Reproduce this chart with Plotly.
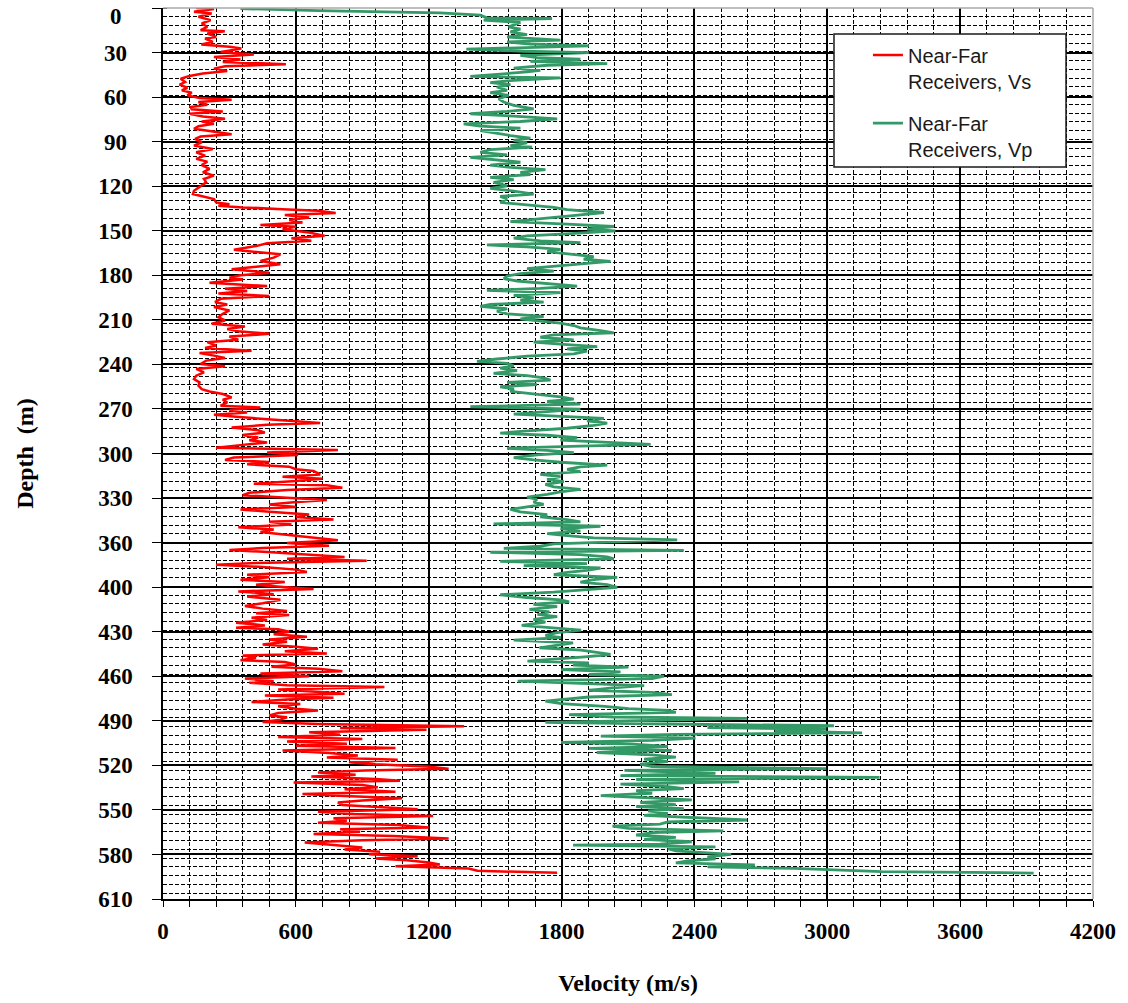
import plotly.graph_objects as go

# Shear-wave velocity log (near-far receiver pair): depth in m, velocity in m/s
VS_DEPTH = [
    0.0, 0.7, 2.6, 3.7, 6.0, 8.3, 10.6, 12.9, 15.2, 15.9, 17.5, 19.8, 20.9, 23.2, 25.0, 26.6,
    27.8, 30.1, 31.9, 33.5, 35.3, 36.9, 38.5, 39.9, 41.5, 43.1, 44.9, 46.5, 48.4, 50.7, 52.5,
    54.6, 56.4, 58.0, 59.8, 61.7, 62.8, 64.4, 66.2, 67.8, 69.4, 70.8, 72.4, 74.3, 75.9, 77.7,
    79.3, 80.9, 82.7, 84.6, 86.4, 88.0, 89.6, 91.9, 94.2, 96.5, 98.8, 101.1, 103.3, 105.2,
    107.5, 110.2, 112.5, 114.8, 117.1, 119.4, 122.8, 125.1, 127.4, 129.0, 130.8, 133.1, 134.3,
    135.4, 136.5, 137.7, 138.8, 140.4, 141.8, 143.4, 145.2, 146.9, 148.5, 149.8, 151.4, 153.7,
    156.0, 157.6, 159.4, 161.0, 163.0, 165.5, 168.6, 170.9, 173.2, 175.5, 177.3, 178.9, 181.2,
    183.0, 184.6, 185.8, 188.1, 190.4, 192.2, 193.8, 195.4, 197.2, 199.1, 201.4, 203.0, 204.8,
    207.1, 209.4, 211.7, 213.9, 216.2, 218.1, 219.7, 221.3, 223.1, 224.9, 227.2, 228.8, 231.1,
    232.7, 234.6, 236.2, 238.0, 239.6, 241.4, 243.7, 245.3, 247.1, 249.4, 251.7, 254.0, 256.3,
    258.6, 260.9, 262.5, 264.3, 266.6, 268.2, 270.0, 272.3, 273.5, 275.3, 276.9, 278.5, 279.9,
    281.5, 282.6, 284.2, 285.4, 287.2, 289.1, 290.7, 292.3, 294.1, 295.9, 297.5, 299.1, 301.0,
    302.6, 304.4, 306.0, 307.8, 309.4, 310.8, 312.4, 314.0, 315.8, 317.0, 319.3, 320.9, 322.3,
    323.9, 325.7, 326.8, 328.4, 330.0, 331.9, 333.5, 335.3, 336.9, 338.3, 339.9, 341.7, 343.3,
    344.9, 346.8, 348.4, 350.2, 351.8, 353.6, 355.5, 357.1, 358.7, 360.5, 362.8, 364.4, 366.2,
    368.1, 369.7, 371.0, 372.6, 374.2, 375.8, 377.0, 378.4, 380.0, 381.1, 382.7, 384.5, 386.1,
    388.0, 389.8, 391.4, 393.0, 394.8, 396.7, 397.8, 399.4, 401.3, 402.9, 405.2, 407.5, 409.4,
    411.2, 412.8, 414.4, 415.6, 417.4, 419.0, 420.8, 422.7, 424.3, 425.4, 427.0, 428.8, 430.4,
    432.3, 433.9, 435.7, 437.3, 438.7, 440.3, 441.9, 443.3, 444.9, 446.5, 447.8, 449.4, 451.0,
    452.4, 454.0, 455.6, 457.5, 459.1, 460.9, 462.0, 463.6, 464.8, 466.6, 468.2, 469.4, 470.7,
    472.3, 473.5, 475.1, 476.5, 478.1, 479.7, 481.0, 482.7, 484.3, 485.6, 487.2, 488.8, 490.2,
    491.8, 493.0, 494.1, 495.9, 497.5, 499.1, 500.5, 502.1, 503.7, 505.1, 506.7, 508.3, 510.1,
    511.7, 513.1, 514.7, 516.3, 517.7, 519.3, 520.9, 522.0, 523.4, 525.0, 526.2, 527.8, 529.1,
    530.3, 531.9, 533.5, 534.9, 536.5, 538.1, 539.4, 541.0, 542.6, 544.0, 545.6, 547.2, 548.6,
    550.2, 551.8, 553.2, 554.8, 556.4, 557.8, 559.4, 561.0, 562.3, 563.9, 565.5, 566.9, 568.5,
    569.7, 571.3, 573.1, 574.7, 576.1, 577.7, 579.3, 580.7, 582.3, 583.4, 585.0, 586.4, 587.5,
    589.1, 590.7, 591.7, 592.1,
]
VS_VEL = [
    150, 230, 140, 220, 160, 215, 175, 200, 170, 279, 200, 240, 190, 225, 173, 300,
    354, 260, 410, 230, 350, 270, 555, 280, 230, 290, 180, 120, 80, 100, 75,
    110, 85, 130, 110, 165, 310, 160, 200, 125, 130, 270, 120, 180, 280, 175,
    230, 160, 140, 230, 310, 170, 145, 175, 140, 225, 150, 190, 150, 200,
    175, 210, 180, 230, 185, 195, 165, 140, 135, 180, 230, 240, 300,
    250, 360, 540, 700, 780, 550, 660, 570, 630, 440, 600, 540, 660,
    730, 580, 670, 470, 420, 320, 530, 500, 440, 530, 420, 310, 480,
    350, 300, 360, 210, 470, 280, 380, 250, 480, 260, 235, 290, 230,
    300, 270, 250, 280, 220, 370, 290, 340, 480, 300, 340, 200, 240,
    190, 400, 165, 230, 280, 195, 170, 280, 150, 185, 150, 140, 165,
    160, 175, 210, 270, 310, 270, 290, 260, 440, 300, 380, 230, 330,
    480, 590, 710, 470, 310, 430, 460, 360, 430, 390, 470, 360, 240,
    790, 470, 610, 320, 280, 480, 380, 570, 600, 680, 710, 540, 720,
    600, 410, 740, 810, 560, 390, 360, 560, 740, 590, 480, 600, 350,
    480, 660, 600, 770, 480, 580, 340, 500, 440, 560, 680, 790, 560,
    750, 450, 300, 490, 650, 820, 560, 920, 420, 240, 450, 600, 650,
    380, 480, 350, 550, 420, 570, 680, 340, 500, 380, 530, 450, 370,
    450, 560, 420, 570, 400, 470, 330, 460, 330, 520, 570, 500, 650,
    480, 560, 450, 600, 700, 550, 740, 360, 420, 350, 550, 600, 490,
    700, 810, 440, 660, 370, 500, 390, 560, 1000, 520, 710, 820, 460,
    770, 560, 400, 620, 520, 600, 700, 520, 480, 560, 530, 450, 700,
    1360, 800, 1190, 660, 800, 520, 900, 560, 830, 600, 1050, 540, 750,
    880, 740, 1060, 840, 960, 1190, 1290, 910, 700, 870, 670, 960, 1070,
    590, 900, 970, 820, 1050, 630, 820, 1080, 900, 790, 810, 1000, 1150,
    700, 860, 1220, 770, 830, 700, 1060, 1200, 800, 890, 680, 1040, 1290,
    900, 640, 800, 900, 820, 980, 930, 1150, 960, 1100, 1200, 1250, 1050,
    1380, 1420, 1700, 1780,
]

# Compressional-wave velocity log (near-far receiver pair)
VP_DEPTH = [
    0.4, 0.8, 1.8, 2.6, 3.3, 4.9, 6.7, 7.2, 8.3, 9.9, 11.3, 12.9, 14.5, 16.3, 18.2, 19.8,
    20.9, 22.0, 23.2, 24.8, 25.9, 27.3, 28.2, 29.6, 30.5, 32.4, 34.0, 35.1, 36.5, 38.1, 39.2,
    41.1, 42.7, 43.8, 45.4, 46.8, 47.9, 49.5, 51.1, 52.5, 54.1, 56.4, 58.0, 59.8, 62.1, 64.4,
    66.7, 69.0, 70.8, 72.4, 74.0, 75.9, 77.7, 79.3, 80.9, 82.3, 83.9, 85.5, 87.3, 89.1, 90.7,
    92.3, 94.2, 95.3, 96.9, 98.8, 100.6, 102.2, 103.8, 105.6, 107.5, 109.1, 110.7, 112.5,
    114.1, 115.9, 117.5, 119.4, 121.7, 123.5, 125.3, 127.4, 129.0, 130.8, 133.1, 134.9, 136.5,
    138.1, 140.0, 141.6, 143.0, 144.6, 146.2, 148.0, 149.6, 151.4, 152.6, 154.4, 156.0, 157.6,
    159.4, 160.6, 162.2, 163.6, 165.2, 166.8, 168.6, 170.2, 172.0, 173.4, 174.8, 176.6, 178.5,
    180.1, 181.9, 183.5, 185.3, 186.9, 188.5, 190.4, 192.0, 193.3, 194.9, 196.8, 198.4, 200.0,
    201.4, 203.0, 204.3, 205.9, 207.5, 209.4, 211.2, 212.8, 214.4, 215.8, 217.4, 219.0, 220.8,
    222.4, 223.8, 225.4, 227.2, 228.8, 230.4, 231.8, 233.4, 235.0, 236.8, 238.4, 240.3, 241.9,
    243.3, 244.9, 246.5, 248.3, 250.1, 251.7, 253.3, 254.7, 256.3, 257.9, 259.3, 260.9, 262.5,
    264.3, 266.2, 267.8, 269.4, 271.2, 273.0, 274.6, 276.2, 278.1, 279.7, 281.0, 282.6, 284.2,
    285.8, 287.7, 289.5, 291.1, 292.5, 294.1, 295.9, 297.3, 298.7, 300.0, 301.4, 302.8, 304.4,
    306.0, 307.8, 309.4, 311.0, 312.9, 314.2, 315.8, 317.4, 319.3, 320.9, 322.7, 324.3, 326.1,
    327.8, 329.6, 331.2, 333.0, 334.9, 336.5, 338.3, 339.9, 341.7, 343.3, 344.9, 346.8, 348.4,
    350.2, 351.8, 353.2, 354.8, 356.4, 358.2, 359.8, 361.2, 362.8, 364.2, 365.5, 366.9, 368.5,
    369.9, 371.3, 372.6, 374.2, 375.8, 377.2, 378.8, 380.4, 381.8, 383.4, 385.0, 386.4, 388.0,
    389.8, 391.4, 393.0, 394.8, 396.7, 398.3, 399.9, 401.7, 403.6, 405.2, 406.6, 408.2, 409.8,
    411.7, 413.5, 415.1, 416.7, 418.5, 420.4, 422.7, 424.3, 425.9, 427.7, 429.5, 431.1, 432.7,
    434.6, 436.2, 438.0, 439.6, 441.0, 442.6, 444.2, 445.6, 447.2, 448.3, 449.9, 451.3, 452.9,
    454.5, 456.3, 457.5, 459.1, 460.9, 462.5, 463.9, 465.5, 467.1, 468.5, 470.1, 471.7, 473.0,
    474.6, 476.2, 478.1, 479.7, 480.8, 482.2, 483.8, 485.4, 486.3, 487.7, 489.1, 490.2, 491.4,
    492.7, 493.6, 495.0, 496.2, 497.3, 498.5, 499.8, 501.4, 502.8, 504.0, 505.6, 506.9, 508.3,
    509.7, 511.3, 512.9, 514.3, 515.9, 517.7, 519.3, 520.7, 522.0, 523.9, 525.5, 526.8, 528.2,
    529.8, 531.4, 533.0, 534.4, 535.8, 537.6, 539.2, 540.8, 542.2, 543.8, 545.4, 546.8, 548.1,
    549.7, 551.4, 552.7, 554.1, 555.9, 557.3, 558.7, 560.1, 561.7, 563.3, 564.6, 566.2, 567.8,
    569.2, 570.8, 572.4, 573.1, 574.3, 575.6, 577.0, 578.4, 579.5, 581.1, 582.5, 583.9, 585.2,
    586.6, 588.0, 589.1, 590.3, 591.2, 591.9, 592.3,
]
VP_VEL = [
    350, 430, 700, 1000, 1250, 1433, 1463, 1757, 1448, 1614, 1584, 1561, 1614, 1569, 1644, 1554,
    1674, 1795, 1554, 1659, 1923, 1584, 1370, 1629, 1923, 1614, 1689, 1885, 1659, 2006, 1735,
    1584, 1704, 1644, 1508, 1388, 1795, 1584, 1478, 1569, 1508, 1554, 1478, 1561, 1516, 1539,
    1584, 1674, 1554, 1388, 1584, 1780, 1614, 1358, 1433, 1614, 1433, 1493, 1569, 1659, 1584,
    1644, 1569, 1667, 1478, 1433, 1554, 1388, 1508, 1614, 1478, 1569, 1727, 1614,
    1659, 1478, 1584, 1493, 1554, 1478, 1584, 1674, 1523, 1554, 1523, 1644, 1765,
    1825, 1991, 1885, 1780, 1674, 1569, 1825, 2036, 1915, 2043, 1840, 1644, 1584,
    1704, 1885, 1463, 1644, 1795, 1735, 1855, 1945, 1900, 2021, 1915, 1765, 1644,
    1765, 1614, 1554, 1539, 1599, 1735, 1870, 1704, 1463, 1795, 1584, 1674, 1614,
    1719, 1478, 1433, 1554, 1508, 1554, 1719, 1614, 1704, 1795, 1855, 1885, 1976,
    2036, 1765, 1704, 1855, 1674, 1825, 1961, 1825, 1915, 1855, 1644, 1508, 1418,
    1554, 1584, 1523, 1599, 1493, 1644, 1719, 1750, 1554, 1689, 1523, 1584, 1569,
    1674, 1795, 1855, 1735, 1885, 1388, 1885, 1735, 1584, 1825, 1991, 1915, 2006,
    1945, 1825, 1644, 1523, 1735, 1870, 1795, 2036, 2202, 1885, 1554, 1735, 1855,
    1689, 1584, 1674, 1795, 2006, 1885, 1825, 1885, 1704, 1795, 1735, 1810, 1727,
    1765, 1885, 1795, 1735, 1644, 1689, 1674, 1719, 1644, 1569, 1614, 1735, 1704,
    1825, 1885, 1493, 1976, 1795, 1885, 1735, 1825, 1945, 2322, 2066, 1765, 1704,
    1539, 2352, 1478, 1885, 2006, 2036, 1523, 1915, 1629, 1976, 1915, 1825, 1765,
    2051, 1945, 1885, 2006, 2051, 1885, 1765, 1523, 1644, 1795, 1834, 1673, 1780,
    1655, 1745, 1691, 1780, 1673, 1727, 1620, 1745, 1888, 1780, 1727, 1798, 1584,
    1852, 1780, 1700, 1888, 1959, 2021, 1905, 1798, 1646, 1923, 1852, 2102, 1798,
    2066, 1923, 2263, 2209, 1602, 1923, 2173, 2030, 1923, 2209, 2298, 1923, 1834,
    1727, 1798, 1995, 2102, 2280, 2316, 1834, 2030, 2638, 2209, 1727, 2280, 3030,
    2459, 2995, 2763, 3157, 2316, 1977, 2405, 2209, 1798, 2120, 2280, 1923, 2298,
    1959, 2209, 2316, 2173, 2280, 2155, 2209, 2995, 2084, 2495, 2066, 3236, 2137,
    2602, 2066, 2280, 2352, 2137, 2209, 1977, 2209, 2388, 2155, 2316, 2137, 2352,
    2191, 2280, 2173, 2405, 2638, 2280, 2245, 2030, 2102, 2530, 2209, 2137, 2316,
    2173, 2388, 2245, 1852, 2495, 2280, 2316, 2477, 2566, 2459, 2495, 2370, 2316,
    2673, 2459, 2852, 3120, 3245, 3780, 3932,
]

# Axis scales
DEPTH_MAX = 610
DEPTH_MAJOR = 30.5
DEPTH_MINOR = 6
DEPTH_TICK_LABELS = ["0", "30", "60", "90", "120", "150", "180", "210", "240", "270", "300",
                     "330", "360", "400", "430", "460", "490", "520", "550", "580", "610"]
VEL_MAX = 4200
VEL_MAJOR = 600
VEL_MINOR = 120

SERIES_NAMES = ["Near-Far<br>Receivers, Vs", "Near-Far<br>Receivers, Vp"]
SERIES_COLORS = ["#FF0000", "#339966"]

SERIF = "Liberation Serif, Times New Roman, serif"
SANS = "Liberation Sans, Arial, sans-serif"
LABEL_FONT = dict(family=SERIF, size=23, color="#000000", weight="bold")


def centred(label):
    # pad short labels so the right-aligned tick text sits centred in its column
    pad = {1: "\u2002", 2: "\u2005"}.get(len(label), "")
    return label + pad


fig = go.Figure()
fig.add_trace(go.Scatter(
    x=VS_VEL, y=VS_DEPTH, mode="lines", name=SERIES_NAMES[0], legendgroup="vs",
    line=dict(color=SERIES_COLORS[0], width=2.5),
))
fig.add_trace(go.Scatter(
    x=VP_VEL, y=VP_DEPTH, mode="lines", name=SERIES_NAMES[1], legendgroup="vp",
    line=dict(color=SERIES_COLORS[1], width=2.8),
))

tick_positions = [i * DEPTH_MAJOR for i in range(len(DEPTH_TICK_LABELS))]
# the surface label sits just below the top edge, so it is placed separately
tick_text = [""] + [centred(t) for t in DEPTH_TICK_LABELS[1:]]

fig.add_annotation(
    xref="paper", yref="y", x=-0.0505, y=tick_positions[0], yshift=-8,
    text=DEPTH_TICK_LABELS[0], showarrow=False, xanchor="center", yanchor="middle",
    font=LABEL_FONT,
)

fig.update_layout(
    width=1128, height=1003,
    margin=dict(l=163, r=35, t=8, b=104, autoexpand=False),
    paper_bgcolor="white", plot_bgcolor="white",
    showlegend=True,
    legend=dict(
        x=0.758, y=0.969, xanchor="left", yanchor="top",
        bgcolor="rgba(0,0,0,0)", borderwidth=0,
        font=dict(family=SANS, size=20, color="#1a1a1a"),
        valign="top", tracegroupgap=13, itemwidth=30,
    ),
    xaxis=dict(
        range=[0, VEL_MAX], dtick=VEL_MAJOR, tick0=0,
        showgrid=True, gridcolor="#000000", gridwidth=1.5,
        zeroline=False, showline=True, linecolor="#000000", linewidth=1.5,
        ticks="outside", ticklen=6, tickcolor="#000000", tickwidth=1.2,
        tickfont=LABEL_FONT,
        ticklabelstandoff=5, ticklabeloverflow="allow",
        minor=dict(dtick=VEL_MINOR, tick0=0, showgrid=True, gridcolor="#000000",
                   gridwidth=1, griddash="4px,2px", ticks="outside", ticklen=6,
                   tickcolor="#000000", tickwidth=1.2),
        title=dict(text="Velocity (m/s)", standoff=31,
                   font=dict(family=SERIF, size=24, color="#000000", weight="bold")),
    ),
    yaxis=dict(
        range=[DEPTH_MAX, 0], tickmode="array", tickvals=tick_positions,
        ticktext=tick_text,
        showgrid=True, gridcolor="#000000", gridwidth=1.5,
        zeroline=False, showline=True, linecolor="#000000", linewidth=1.5,
        ticks="outside", ticklen=9, tickcolor="#000000", tickwidth=1.2,
        tickfont=LABEL_FONT,
        ticklabelstandoff=15, ticklabeloverflow="allow",
        minor=dict(dtick=DEPTH_MINOR, tick0=0, showgrid=True, gridcolor="#000000",
                   gridwidth=1, griddash="4px,2px", ticks="inside", ticklen=4,
                   tickcolor="#000000", tickwidth=1.2),
        title=dict(text="Depth\u00a0 (m)", standoff=58,
                   font=dict(family=SERIF, size=24, color="#000000", weight="bold")),
    ),
    shapes=[
        # light plot-area frame along the top and right edges
        dict(type="line", xref="paper", yref="paper", x0=0, x1=1, y0=1, y1=1,
             line=dict(color="#A8A8A8", width=1.5), layer="above"),
        dict(type="line", xref="paper", yref="paper", x0=1, x1=1, y0=0, y1=1,
             line=dict(color="#A8A8A8", width=1.5), layer="above"),
        # legend frame
        dict(type="rect", xref="paper", yref="paper", x0=0.7215, x1=0.971,
             y0=0.8215, y1=0.9708, fillcolor="white",
             line=dict(color="#1a1a1a", width=1.5), layer="above"),
    ],
)

fig.write_html("out.html")
